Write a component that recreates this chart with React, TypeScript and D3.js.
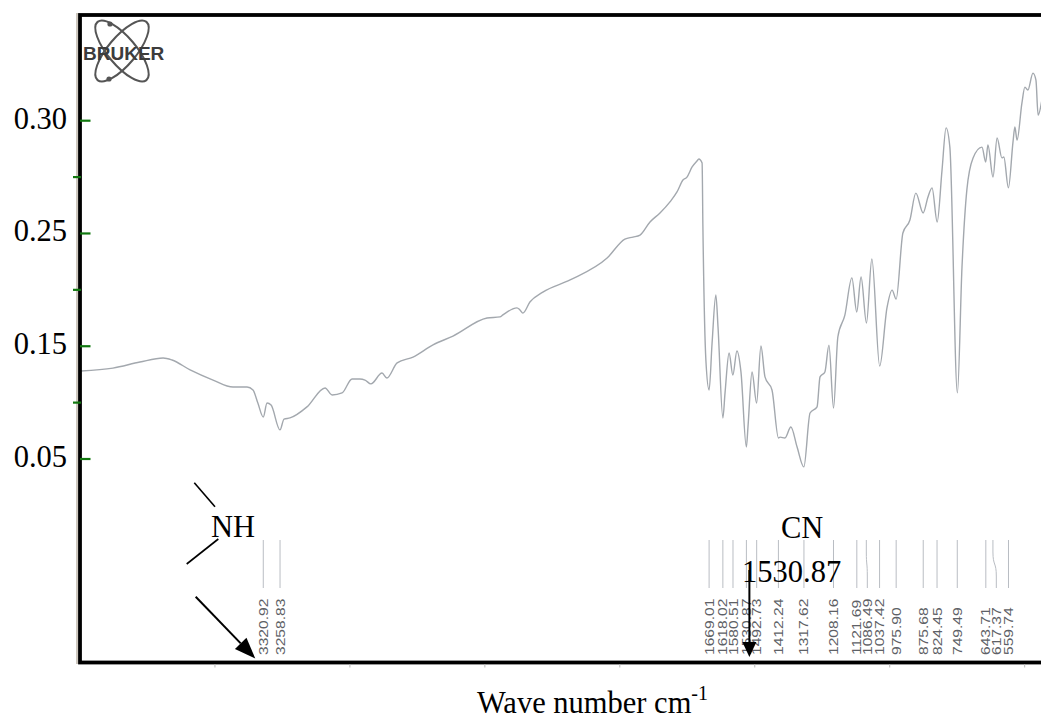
import * as d3 from "d3";
import { useEffect, useRef } from "react";

// spectrum (wavenumber cm-1, absorbance as drawn on the axis)
const wavenumbers = [
  3996, 3878, 3778, 3692, 3659, 3592, 3507, 3433, 3381, 3359, 3341, 3321, 3307, 3292, 3259, 3244, 3222, 3159,
  3092, 3066, 3029, 2992, 2963, 2944, 2922, 2881, 2863, 2825, 2766, 2692, 2618, 2492, 2444, 2433, 2381, 2370,
  2359, 2333, 2285, 2184, 2047, 1981, 1951, 1925, 1888, 1851, 1814, 1788, 1766, 1751, 1732, 1714, 1707, 1695,
  1692, 1681, 1669, 1658, 1644, 1636, 1618, 1610, 1595, 1581, 1566, 1551, 1531, 1525, 1510, 1493, 1477, 1462,
  1436, 1412, 1406, 1388, 1366, 1343, 1318, 1295, 1269, 1258, 1240, 1225, 1208, 1192, 1166, 1140, 1122, 1106,
  1086, 1066, 1037, 1010, 991, 976, 951, 925, 903, 876, 858, 843, 824, 806, 791, 777, 749, 732, 714, 691, 658,
  644, 636, 617, 602, 584, 577, 560, 543, 536, 528, 510, 499, 488, 469, 458, 450, 436,
];
const absorbance = [
  0.189, 0.1903, 0.193, 0.1948, 0.1939, 0.1895, 0.185, 0.1819, 0.1819, 0.1806, 0.1748, 0.1686, 0.1748, 0.1739,
  0.1629, 0.1677, 0.1682, 0.1731, 0.1815, 0.1784, 0.1793, 0.1855, 0.1855, 0.185, 0.1833, 0.1881, 0.1859, 0.1926,
  0.1952, 0.2006, 0.2045, 0.2125, 0.213, 0.2139, 0.217, 0.2161, 0.2147, 0.2196, 0.224, 0.2294, 0.2391, 0.2475,
  0.2484, 0.2493, 0.2551, 0.2591, 0.264, 0.2684, 0.2737, 0.275, 0.2795, 0.2821, 0.283, 0.2812, 0.2529, 0.1939,
  0.1806, 0.2014, 0.2227, 0.2085, 0.1682, 0.1793, 0.197, 0.1872, 0.1979, 0.1886, 0.1553, 0.1642, 0.1886, 0.1748,
  0.2001, 0.1864, 0.1806, 0.1593, 0.1597, 0.1593, 0.1642, 0.1553, 0.1465, 0.1704, 0.1731, 0.1864, 0.1886, 0.2005,
  0.1726, 0.2041, 0.2138, 0.2303, 0.2152, 0.2307, 0.2103, 0.2387, 0.1912, 0.217, 0.2249, 0.2209, 0.2502, 0.256,
  0.2679, 0.2591, 0.2662, 0.2702, 0.2551, 0.2781, 0.2968, 0.2883, 0.1793, 0.2351, 0.2693, 0.2835, 0.2883, 0.2817,
  0.2892, 0.275, 0.2923, 0.2835, 0.2839, 0.2702, 0.2906, 0.2972, 0.2914, 0.3078, 0.3149, 0.3136, 0.3211, 0.318,
  0.3025, 0.3092,
];

const yTickValues = [0.3, 0.275, 0.25, 0.225, 0.2, 0.175, 0.15];
const yTickLabels = ["0.30", "", "0.25", "", "0.15", "", "0.05"];
const xTickValues = [3500, 3000, 2500, 2000, 1500, 1000, 500];

const peakWavenumbers = [
  3320.92, 3258.83, 1669.01, 1618.02, 1580.51, 1530.87, 1492.73, 1412.24, 1317.62, 1208.16, 1121.69, 1086.49,
  1037.42, 975.9, 875.68, 824.45, 749.49, 643.71, 617.37, 559.74,
];

const serif = "'Liberation Serif', 'Times New Roman', serif";
const sans = "'Liberation Sans', Arial, sans-serif";

export default function App() {
  const ref = useRef<SVGSVGElement>(null);

  useEffect(() => {
    if (!ref.current) return;
    const svg = d3.select(ref.current);
    svg.selectAll("*").remove();

    const width = 1041;
    const height = 717;
    const frame = { left: 80, top: 15, right: 1052, bottom: 662.5 };

    svg.attr("width", width).attr("height", height);

    const x = d3.scaleLinear().domain([4000, 400]).range([80, 1051.6]);
    const y = d3.scaleLinear().domain([0.3, 0.15]).range([120.7, 459]);

    svg.append("rect").attr("width", width).attr("height", height).attr("fill", "#fff");

    svg
      .append("clipPath")
      .attr("id", "plot-clip")
      .append("rect")
      .attr("x", frame.left)
      .attr("y", frame.top)
      .attr("width", frame.right - frame.left)
      .attr("height", frame.bottom - frame.top);

    // bruker logo
    const logo = svg.append("g").attr("transform", "translate(122,51)");
    [50, -50].forEach((a) => {
      logo
        .append("ellipse")
        .attr("rx", 38)
        .attr("ry", 14)
        .attr("transform", `rotate(${a})`)
        .attr("fill", "none")
        .attr("stroke", "#555")
        .attr("stroke-width", 2);
    });
    [[-12, -27], [-13, 28]].forEach(([dx, dy]) => {
      logo.append("circle").attr("cx", dx).attr("cy", dy).attr("r", 2.6).attr("fill", "#555");
    });
    svg
      .append("text")
      .attr("x", 83)
      .attr("y", 60)
      .style("font-family", sans)
      .style("font-weight", "bold")
      .style("font-size", "19px")
      .style("fill", "#3c3c3c")
      .text("BRUKER");

    // spectrum
    const points = wavenumbers.map((w, i) => ({ w, a: absorbance[i] }));
    const line = d3
      .line<{ w: number; a: number }>()
      .x((d) => x(d.w))
      .y((d) => y(d.a))
      .curve(d3.curveMonotoneX);

    svg
      .append("path")
      .datum(points)
      .attr("clip-path", "url(#plot-clip)")
      .attr("d", line)
      .attr("fill", "none")
      .attr("stroke", "#a3a8ae")
      .attr("stroke-width", 1.4);

    // peak pick lines and labels
    const fmt = d3.format(".2f");
    const labelX: number[] = [];
    peakWavenumbers.forEach((w, i) => {
      let lx = x(w);
      if (i > 0 && lx - labelX[i - 1] < 10.5) lx = labelX[i - 1] + 10.5;
      labelX.push(lx);
    });

    const peaks = svg.append("g");
    peakWavenumbers.forEach((w, i) => {
      const px = x(w);
      const lx = labelX[i];
      const d =
        Math.abs(lx - px) < 0.5
          ? `M${px},540 L${px},588`
          : `M${px},540 L${px},552 C${px},566 ${lx},562 ${lx},576 L${lx},588`;
      peaks.append("path").attr("d", d).attr("fill", "none").attr("stroke", "#b9bdc3").attr("stroke-width", 1);
      peaks
        .append("text")
        .attr("transform", `translate(${lx + 4.5},655) rotate(-90) scale(1.3,1)`)
        .style("font-family", sans)
        .style("font-size", "12px")
        .style("fill", "#5e6166")
        .text(fmt(w));
    });

    // frame
    svg
      .append("line")
      .attr("x1", 77)
      .attr("x2", 77)
      .attr("y1", 13)
      .attr("y2", 664)
      .attr("stroke", "#bdb4a8")
      .attr("stroke-width", 1.5);
    svg
      .append("rect")
      .attr("x", frame.left)
      .attr("y", frame.top)
      .attr("width", frame.right - frame.left)
      .attr("height", frame.bottom - frame.top)
      .attr("fill", "none")
      .attr("stroke", "#000")
      .attr("stroke-width", 3.8);

    // faint x ticks under the frame
    svg
      .append("g")
      .selectAll("line")
      .data(xTickValues)
      .join("line")
      .attr("x1", (d) => x(d))
      .attr("x2", (d) => x(d))
      .attr("y1", 664.5)
      .attr("y2", 667.5)
      .attr("stroke", "#c4c4c4")
      .attr("stroke-width", 1.2);

    // y ticks (green) and labels
    const yAxis = svg.append("g");
    yTickValues.forEach((v, i) => {
      const major = i % 2 === 0;
      yAxis
        .append("line")
        .attr("x1", major ? 80 : 73)
        .attr("x2", major ? 90.5 : 81)
        .attr("y1", y(v))
        .attr("y2", y(v))
        .attr("stroke", "#11780f")
        .attr("stroke-width", 2.2);
      if (yTickLabels[i]) {
        yAxis
          .append("text")
          .attr("x", 67)
          .attr("y", y(v) + 8)
          .attr("text-anchor", "end")
          .style("font-family", serif)
          .style("font-size", "30.5px")
          .style("fill", "#000")
          .text(yTickLabels[i]);
      }
    });

    // annotations
    const ann = svg.append("g");
    const arrow = (x1: number, y1: number, x2: number, y2: number, len: number, half: number) => {
      const ang = Math.atan2(y2 - y1, x2 - x1);
      const bx = x2 - len * Math.cos(ang);
      const by = y2 - len * Math.sin(ang);
      ann
        .append("line")
        .attr("x1", x1)
        .attr("y1", y1)
        .attr("x2", bx)
        .attr("y2", by)
        .attr("stroke", "#000")
        .attr("stroke-width", 2);
      const nx = -Math.sin(ang) * half;
      const ny = Math.cos(ang) * half;
      ann
        .append("path")
        .attr("d", `M${x2},${y2} L${bx + nx},${by + ny} L${bx - nx},${by - ny} Z`)
        .attr("fill", "#000");
    };

    ann.append("line").attr("x1", 194.3).attr("y1", 482.7).attr("x2", 215).attr("y2", 506.7).attr("stroke", "#000").attr("stroke-width", 1.6);
    ann.append("line").attr("x1", 218.3).attr("y1", 539).attr("x2", 186.7).attr("y2", 564).attr("stroke", "#000").attr("stroke-width", 1.6);
    ann
      .append("text")
      .attr("x", 211)
      .attr("y", 537)
      .style("font-family", serif)
      .style("font-size", "30.5px")
      .text("NH");
    const nhTip = x(3320.92) - 8;
    arrow(195.7, 596.7, nhTip, 658.5, 21, 8);

    ann
      .append("text")
      .attr("x", 781)
      .attr("y", 538)
      .style("font-family", serif)
      .style("font-size", "30.5px")
      .text("CN");
    ann
      .append("text")
      .attr("x", 742)
      .attr("y", 581.5)
      .style("font-family", serif)
      .style("font-size", "30.5px")
      .text(fmt(1530.87));
    const cnX = x(1530.87) + 3;
    arrow(cnX, 570, cnX, 657, 15, 7);

    // x axis title
    const title = svg
      .append("text")
      .attr("x", 477)
      .attr("y", 713)
      .style("font-family", serif)
      .style("font-size", "30.5px")
      .style("fill", "#000");
    title.append("tspan").text("Wave number cm");
    title.append("tspan").attr("dy", -13).style("font-size", "20px").text("-1");
  }, []);

  return <svg ref={ref} style={{ position: "absolute", left: 0, top: 0, display: "block" }} />;
}
